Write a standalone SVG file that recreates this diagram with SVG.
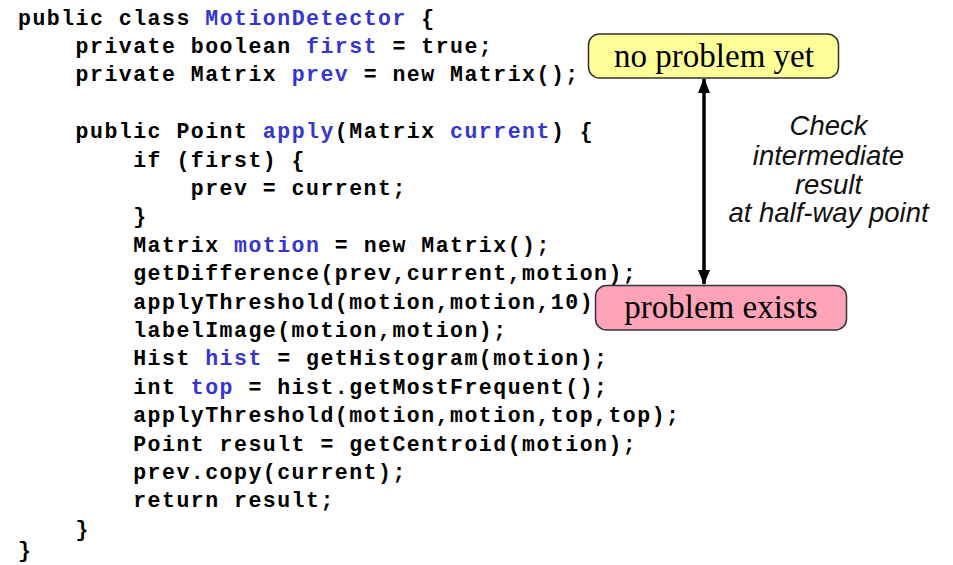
<svg xmlns="http://www.w3.org/2000/svg" width="953" height="565" viewBox="0 0 953 565">
<defs>
<style>
.code{font-family:"Liberation Mono","Courier New",monospace;font-weight:bold;font-size:21.5px;letter-spacing:1.5px;fill:#000;white-space:pre}
.b{fill:#3535D0}
.box{stroke:#333;stroke-width:1.5}
.lbl{font-family:"Liberation Serif","Times New Roman",serif;font-size:33px;fill:#000;text-anchor:middle}
.note{font-family:"Liberation Sans",Arial,sans-serif;font-style:italic;font-size:27.5px;fill:#111;text-anchor:middle}
</style>
<marker id="ah" markerUnits="userSpaceOnUse" markerWidth="15" markerHeight="12" refX="14" refY="6" orient="auto-start-reverse" viewBox="0 0 15 12">
<path d="M0,0 L15,6 L0,12 Z" fill="#000"/>
</marker>
</defs>
<rect width="953" height="565" fill="#fff"/>
<g id="code" class="code" xml:space="preserve">
<text x="18" y="24.5">public class <tspan class="b">MotionDetector</tspan> {</text>
<text x="75.6" y="52.9">private boolean <tspan class="b">first</tspan> = true;</text>
<text x="75.6" y="81.3">private Matrix <tspan class="b">prev</tspan> = new Matrix();</text>
<text x="75.6" y="138.1">public Point <tspan class="b">apply</tspan>(Matrix <tspan class="b">current</tspan>) {</text>
<text x="133.2" y="166.5">if (first) {</text>
<text x="190.8" y="194.9">prev = current;</text>
<text x="133.2" y="223.3">}</text>
<text x="133.2" y="251.7">Matrix <tspan class="b">motion</tspan> = new Matrix();</text>
<text x="133.2" y="280.1">getDifference(prev,current,motion);</text>
<text x="133.2" y="308.5">applyThreshold(motion,motion,10)</text>
<text x="133.2" y="336.9">labelImage(motion,motion);</text>
<text x="133.2" y="365.3">Hist <tspan class="b">hist</tspan> = getHistogram(motion);</text>
<text x="133.2" y="393.7">int <tspan class="b">top</tspan> = hist.getMostFrequent();</text>
<text x="133.2" y="422.1">applyThreshold(motion,motion,top,top);</text>
<text x="133.2" y="450.5">Point result = getCentroid(motion);</text>
<text x="133.2" y="478.9">prev.copy(current);</text>
<text x="133.2" y="507.3">return result;</text>
<text x="75.6" y="535.7">}</text>
<text x="18" y="557">}</text>
</g>
<g id="connectors">
<line x1="704" y1="79" x2="704" y2="284" stroke="#000" stroke-width="3.5" marker-start="url(#ah)" marker-end="url(#ah)"/>
</g>
<g id="node-no-problem">
<rect class="box" x="588.5" y="34" width="250" height="44" rx="11" fill="#FFFF99"/>
<text class="lbl" x="714" y="67">no problem yet</text>
</g>
<g id="node-problem-exists">
<rect class="box" x="595.5" y="285.5" width="251" height="44.5" rx="11" fill="#FFA3B8"/>
<text class="lbl" x="721" y="318">problem exists</text>
</g>
<g id="note">
<text class="note" x="828.5" y="135">Check</text>
<text class="note" x="828.5" y="165">intermediate</text>
<text class="note" x="828.5" y="194">result</text>
<text class="note" x="828.5" y="222">at half-way point</text>
</g>
</svg>
